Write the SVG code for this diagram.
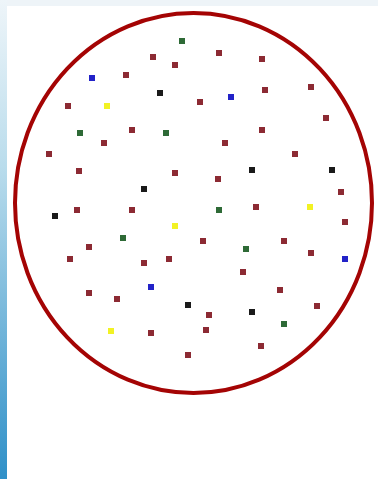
<svg xmlns="http://www.w3.org/2000/svg" width="378" height="479" viewBox="0 0 378 479">
<defs>
<linearGradient id="strip" x1="0" y1="0" x2="0" y2="1">
<stop offset="0" stop-color="#eef5f9"/>
<stop offset="0.35" stop-color="#b9dcec"/>
<stop offset="1" stop-color="#2f90c8"/>
</linearGradient>
<style>
.d{width:6px;height:6px}
.r{fill:#8c2a33}
.g{fill:#2e6a36}
.b{fill:#2222c8}
.k{fill:#1a1a1a}
.y{fill:#f2f224}
</style>
</defs>
<rect x="0" y="0" width="378" height="479" fill="#ffffff"/>
<rect x="0" y="0" width="378" height="6" fill="#eef4f8"/>
<rect x="0" y="0" width="7" height="479" fill="url(#strip)"/>
<ellipse id="circle" cx="193.5" cy="203" rx="178.5" ry="190" fill="none" stroke="#a40404" stroke-width="4"/>
<g id="dots">
<g class="r">
<rect class="d" x="150" y="54" width="6" height="6"/>
<rect class="d" x="172" y="62" width="6" height="6"/>
<rect class="d" x="123" y="72" width="6" height="6"/>
<rect class="d" x="65" y="103" width="6" height="6"/>
<rect class="d" x="129" y="127" width="6" height="6"/>
<rect class="d" x="101" y="140" width="6" height="6"/>
<rect class="d" x="46" y="151" width="6" height="6"/>
<rect class="d" x="216" y="50" width="6" height="6"/>
<rect class="d" x="259" y="56" width="6" height="6"/>
<rect class="d" x="262" y="87" width="6" height="6"/>
<rect class="d" x="197" y="99" width="6" height="6"/>
<rect class="d" x="308" y="84" width="6" height="6"/>
<rect class="d" x="323" y="115" width="6" height="6"/>
<rect class="d" x="259" y="127" width="6" height="6"/>
<rect class="d" x="222" y="140" width="6" height="6"/>
<rect class="d" x="292" y="151" width="6" height="6"/>
<rect class="d" x="76" y="168" width="6" height="6"/>
<rect class="d" x="172" y="170" width="6" height="6"/>
<rect class="d" x="74" y="207" width="6" height="6"/>
<rect class="d" x="129" y="207" width="6" height="6"/>
<rect class="d" x="86" y="244" width="6" height="6"/>
<rect class="d" x="67" y="256" width="6" height="6"/>
<rect class="d" x="141" y="260" width="6" height="6"/>
<rect class="d" x="166" y="256" width="6" height="6"/>
<rect class="d" x="86" y="290" width="6" height="6"/>
<rect class="d" x="114" y="296" width="6" height="6"/>
<rect class="d" x="215" y="176" width="6" height="6"/>
<rect class="d" x="338" y="189" width="6" height="6"/>
<rect class="d" x="253" y="204" width="6" height="6"/>
<rect class="d" x="342" y="219" width="6" height="6"/>
<rect class="d" x="200" y="238" width="6" height="6"/>
<rect class="d" x="281" y="238" width="6" height="6"/>
<rect class="d" x="308" y="250" width="6" height="6"/>
<rect class="d" x="240" y="269" width="6" height="6"/>
<rect class="d" x="277" y="287" width="6" height="6"/>
<rect class="d" x="206" y="312" width="6" height="6"/>
<rect class="d" x="314" y="303" width="6" height="6"/>
<rect class="d" x="148" y="330" width="6" height="6"/>
<rect class="d" x="203" y="327" width="6" height="6"/>
<rect class="d" x="258" y="343" width="6" height="6"/>
<rect class="d" x="185" y="352" width="6" height="6"/>
</g>
<g class="g">
<rect class="d" x="179" y="38" width="6" height="6"/>
<rect class="d" x="77" y="130" width="6" height="6"/>
<rect class="d" x="163" y="130" width="6" height="6"/>
<rect class="d" x="120" y="235" width="6" height="6"/>
<rect class="d" x="216" y="207" width="6" height="6"/>
<rect class="d" x="243" y="246" width="6" height="6"/>
<rect class="d" x="281" y="321" width="6" height="6"/>
</g>
<g class="b">
<rect class="d" x="89" y="75" width="6" height="6"/>
<rect class="d" x="228" y="94" width="6" height="6"/>
<rect class="d" x="148" y="284" width="6" height="6"/>
<rect class="d" x="342" y="256" width="6" height="6"/>
</g>
<g class="k">
<rect class="d" x="157" y="90" width="6" height="6"/>
<rect class="d" x="141" y="186" width="6" height="6"/>
<rect class="d" x="52" y="213" width="6" height="6"/>
<rect class="d" x="249" y="167" width="6" height="6"/>
<rect class="d" x="329" y="167" width="6" height="6"/>
<rect class="d" x="185" y="302" width="6" height="6"/>
<rect class="d" x="249" y="309" width="6" height="6"/>
</g>
<g class="y">
<rect class="d" x="104" y="103" width="6" height="6"/>
<rect class="d" x="172" y="223" width="6" height="6"/>
<rect class="d" x="307" y="204" width="6" height="6"/>
<rect class="d" x="108" y="328" width="6" height="6"/>
</g>
</g>
</svg>
